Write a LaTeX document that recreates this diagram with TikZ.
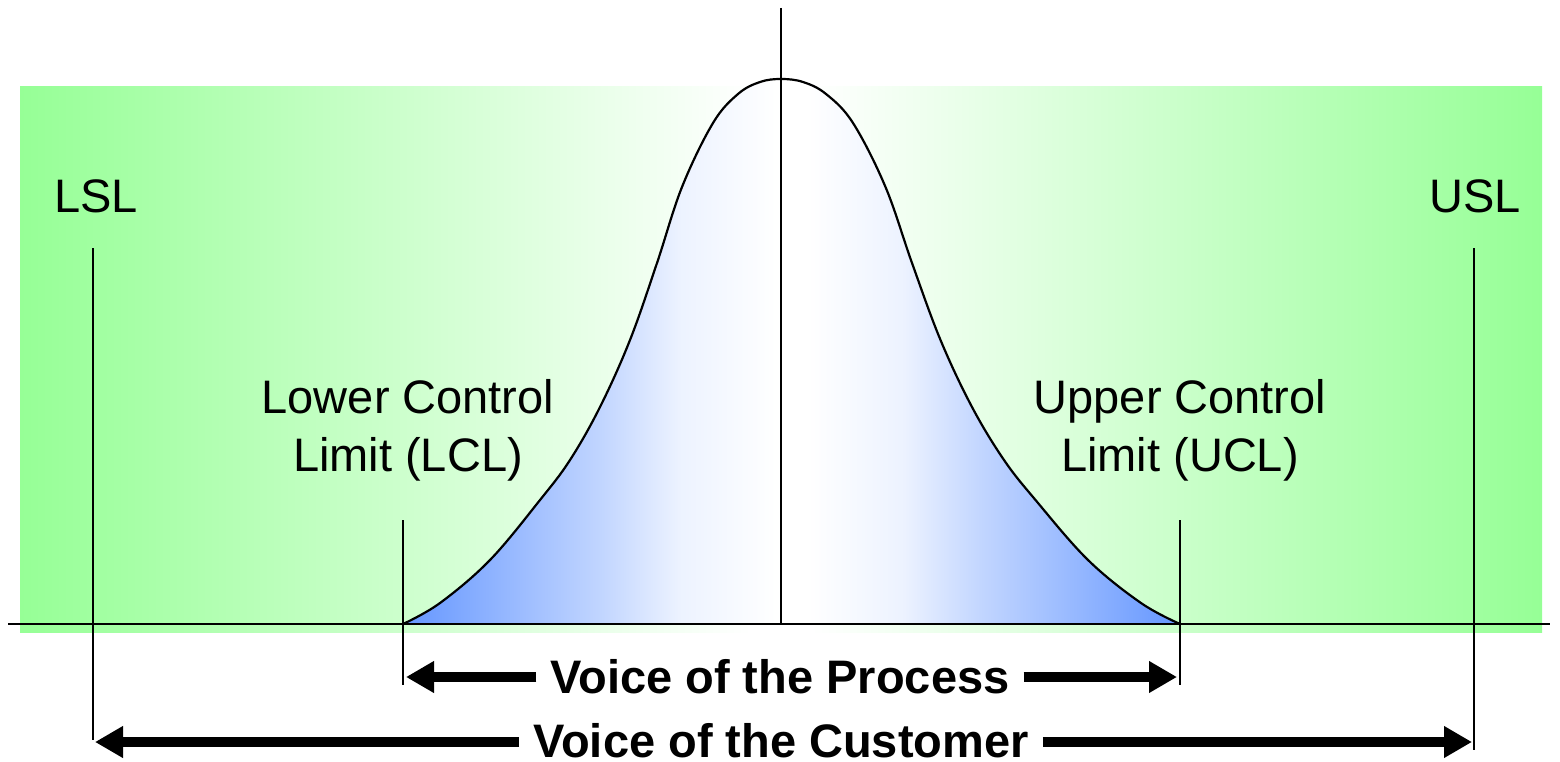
\documentclass[tikz,border=0pt]{standalone}
\usepackage{fontspec}
\setmainfont{Liberation Sans}
\usetikzlibrary{arrows.meta}
\definecolor{gedge}{RGB}{150,255,150}
\definecolor{bedge}{RGB}{100,150,255}
\colorlet{gmid}{gedge!50!white}
\colorlet{bmidA}{bedge!58!white}
\colorlet{bmidB}{bedge!40!white}
\colorlet{bmidC}{bedge!12!white}
\pgfdeclarehorizontalshading{greenfade}{100bp}{color(0bp)=(gedge); color(25bp)=(gedge); color(37bp)=(gmid); color(49bp)=(white); color(51bp)=(white); color(63bp)=(gmid); color(75bp)=(gedge); color(100bp)=(gedge)}
\pgfdeclarehorizontalshading{bellfade}{100bp}{color(0bp)=(bedge); color(25bp)=(bedge); color(33.8bp)=(bmidA); color(37.7bp)=(bmidB); color(42.8bp)=(bmidC); color(49bp)=(white); color(51bp)=(white); color(57.2bp)=(bmidC); color(62.3bp)=(bmidB); color(66.2bp)=(bmidA); color(75bp)=(bedge); color(100bp)=(bedge)}
\tikzset{
  thinline/.style={line width=2pt, black},
  axisline/.style={line width=2.8pt, black},
  bigarrow/.style={line width=10pt, -{Triangle[length=28pt,width=30pt]}},
  limitlabel/.style={font=\fontsize{47}{58}\selectfont, align=center, inner sep=0pt},
  speclabel/.style={font=\fontsize{47}{56}\selectfont, inner sep=0pt, anchor=base},
  voicelabel/.style={font=\fontsize{47}{56}\selectfont\bfseries, inner xsep=14pt, inner ysep=0pt, anchor=base},
}
\begin{document}
\begin{tikzpicture}[x=1pt,y=-1pt]
\useasboundingbox (0,0) rectangle (1560,762);
% green background
\shade[shading=greenfade] (20,87) rectangle (1542,632);
% bell shading
\shade[shading=bellfade] plot[smooth, tension=0.6] coordinates {(403,624) (440,603) (490,560) (540,500) (570,460) (600,407) (630,340) (657,263) (682,187) (713,123) (738,94) (760,82) (781,79) (803,82) (826,94) (853,123) (885.5,187) (912,263) (940.5,340) (972,407) (1004,460) (1035.5,500) (1088,560) (1141,603) (1180,624)} -- cycle;
% coordinates
\coordinate (axL) at (8,624);
\coordinate (axR) at (1550,624);
\coordinate (cTop) at (781,8);
\coordinate (cBot) at (781,624);
\coordinate (lslTop) at (93,248);
\coordinate (lslBot) at (93,740);
\coordinate (uslTop) at (1474,248);
\coordinate (uslBot) at (1474,750);
\coordinate (lclTop) at (403,520);
\coordinate (lclBot) at (403,685);
\coordinate (uclTop) at (1180,520);
\coordinate (uclBot) at (1180,685);
\coordinate (pL) at (406,677);
\coordinate (pR) at (1177,677);
\coordinate (cL) at (95,742);
\coordinate (cR) at (1472,742);
% lines
\draw[axisline] (axL) -- (axR);
\draw[axisline] (cTop) -- (cBot);
\draw[thinline] (lslTop) -- (lslBot);
\draw[thinline] (uslTop) -- (uslBot);
\draw[thinline] (lclTop) -- (lclBot);
\draw[thinline] (uclTop) -- (uclBot);
% curve
\draw[line width=2.2pt, line join=round] plot[smooth, tension=0.6] coordinates {(403,624) (440,603) (490,560) (540,500) (570,460) (600,407) (630,340) (657,263) (682,187) (713,123) (738,94) (760,82) (781,79) (803,82) (826,94) (853,123) (885.5,187) (912,263) (940.5,340) (972,407) (1004,460) (1035.5,500) (1088,560) (1141,603) (1180,624)};
% labels
\node[speclabel] (lsl) at (96,212) {LSL};
\node[speclabel] (usl) at (1475,212) {USL};
\node[limitlabel] (lcl) at (408,430) {Lower Control\\Limit (LCL)};
\node[limitlabel] (ucl) at (1180,430) {Upper Control\\Limit (UCL)};
\node[voicelabel] (proc) at (780,693) {Voice of the Process};
\node[voicelabel] (cust) at (781,757) {Voice of the Customer};
% arrows
\draw[bigarrow] (proc.west |- pL) -- (pL);
\draw[bigarrow] (proc.east |- pR) -- (pR);
\draw[bigarrow] (cust.west |- cL) -- (cL);
\draw[bigarrow] (cust.east |- cR) -- (cR);
\end{tikzpicture}
\end{document}
